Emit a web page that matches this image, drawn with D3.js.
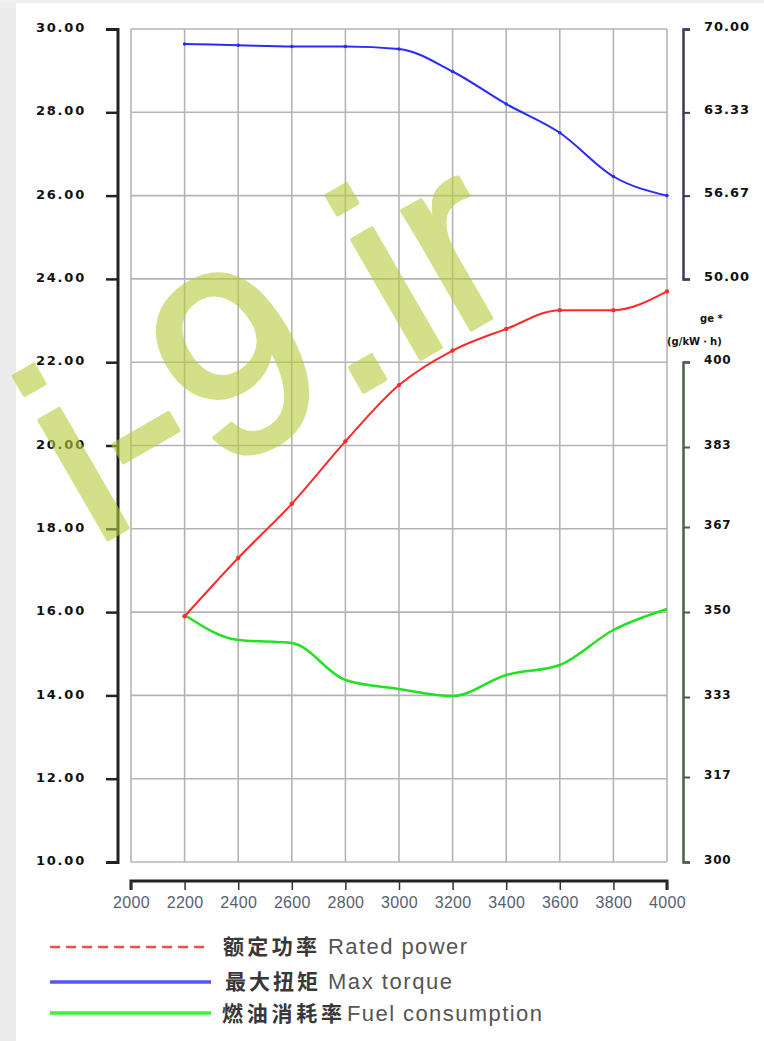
<!DOCTYPE html>
<html><head><meta charset="utf-8">
<script src="https://cdn.jsdelivr.net/npm/d3@7"></script>
<style>
html,body{margin:0;padding:0;background:#fff;}
svg{display:block;}
</style></head>
<body>
<script>
const rpm = [2200,2400,2600,2800,3000,3200,3400,3600,3800,4000];
const ratedPower = [15.9,17.3,18.6,20.1,21.45,22.28,22.8,23.25,23.25,23.7];
const maxTorque = [68.8,68.7,68.6,68.6,68.4,66.6,64.0,61.7,58.2,56.67];
const fuelConsumption = [349.4,344.4,343.8,336.4,334.6,333.2,337.4,339.4,346.4,350.6];
const xTicks = [2000,2200,2400,2600,2800,3000,3200,3400,3600,3800,4000];
const leftTicks = [10,12,14,16,18,20,22,24,26,28,30];
const torqueTicks = ["50.00","56.67","63.33","70.00"];
const fuelTicks = ["300","317","333","350","367","383","400"];
const legendCN = ["额定功率","最大扭矩","燃油消耗率"];
const legendEN = ["Rated power","Max torque","Fuel consumption"];

const W=764,H=1041;
const svg=d3.select("body").append("svg").attr("width",W).attr("height",H);
svg.append("rect").attr("width",W).attr("height",H).attr("fill","#fff");
svg.append("rect").attr("x",0).attr("y",0).attr("width",16).attr("height",H).attr("fill","#ececec");
svg.append("rect").attr("x",0).attr("y",0).attr("width",W).attr("height",3).attr("fill","#f0f0f0");

const x=d3.scaleLinear().domain([2000,4000]).range([131,667]);
const yL=d3.scaleLinear().domain([10,30]).range([862,29]);
const yT=d3.scaleLinear().domain([50,70]).range([279,29]);
const yF=d3.scaleLinear().domain([300,400]).range([862,362]);

// grid
const g=svg.append("g");
g.selectAll("line.v").data(xTicks).join("line")
 .attr("x1",d=>x(d)).attr("x2",d=>x(d)).attr("y1",29).attr("y2",862)
 .attr("stroke","#b4b4b4").attr("stroke-width",1.6);
g.selectAll("line.h").data(leftTicks).join("line")
 .attr("x1",131).attr("x2",667).attr("y1",d=>yL(d)).attr("y2",d=>yL(d))
 .attr("stroke","#b4b4b4").attr("stroke-width",1.6);

// left axis
const fontAx="'DejaVu Sans', sans-serif";
const la=svg.append("g").attr("transform","translate(118,0)")
 .call(d3.axisLeft(yL).tickValues(leftTicks).tickFormat(d3.format(".2f")).tickSize(12).tickPadding(20));
la.select(".domain").attr("stroke","#222").attr("stroke-width",3).attr("d","M-12,29.5H0V862.5H-12");
la.selectAll(".tick line").attr("stroke","#222").attr("stroke-width",2.5);
la.selectAll(".tick text").attr("fill","#111").attr("font-family",fontAx).attr("font-size",13).attr("font-weight","bold").attr("letter-spacing",1.8).attr("dy","0.2em");

// x axis
const xa=svg.append("g").attr("transform","translate(0,881)")
 .call(d3.axisBottom(x).tickValues(xTicks).tickFormat(d3.format("d")).tickSize(9).tickPadding(5));
xa.select(".domain").attr("stroke","#222").attr("stroke-width",3).attr("d","M131,9V0H667V9");
xa.selectAll(".tick line").attr("stroke","#333").attr("stroke-width",1.5);
xa.selectAll(".tick text").attr("fill","#586070").attr("font-family","'Liberation Sans',Arial,sans-serif").attr("font-size",16).attr("letter-spacing",0.3).attr("dy","0.8em");

// torque axis
const ta=svg.append("g").attr("transform","translate(683,0)")
 .call(d3.axisRight(yT).tickValues(torqueTicks.map(Number)).tickFormat((d,i)=>torqueTicks[i]).tickSize(7).tickPadding(14));
ta.select(".domain").attr("stroke","#3a3a5a").attr("stroke-width",2.5);
ta.selectAll(".tick line").attr("stroke","#3a3a5a").attr("stroke-width",2);
ta.selectAll(".tick text").attr("fill","#111").attr("font-family",fontAx).attr("font-size",13).attr("font-weight","bold").attr("letter-spacing",1).attr("dy","0.1em");

// fuel axis
const fa=svg.append("g").attr("transform","translate(683,0)")
 .call(d3.axisRight(yF).tickValues(fuelTicks.map(Number)).tickFormat((d,i)=>fuelTicks[i]).tickSize(7).tickPadding(14));
fa.select(".domain").attr("stroke","#4a5e4a").attr("stroke-width",2.5);
fa.selectAll(".tick line").attr("stroke","#4a5e4a").attr("stroke-width",2);
fa.selectAll(".tick text").attr("fill","#111").attr("font-family",fontAx).attr("font-size",12).attr("font-weight","bold").attr("letter-spacing",0.8).attr("dy","0.1em");
svg.append("text").attr("x",700).attr("y",322).text("ge  *").attr("font-family",fontAx).attr("font-size",10).attr("font-weight","bold").attr("fill","#111");
svg.append("text").attr("x",667).attr("y",345).text("(g/kW・h)").attr("font-family",fontAx).attr("font-size",10).attr("font-weight","bold").attr("fill","#111");

// lines
const curve=d3.curveMonotoneX;
const mk=(ys,ysc)=>d3.line().x((d,i)=>x(rpm[i])).y(d=>ysc(d)).curve(curve)(ys);
svg.append("path").attr("d",mk(fuelConsumption,yF)).attr("fill","none").attr("stroke","#22e022").attr("stroke-width",2.5);
svg.append("path").attr("d",mk(maxTorque,yT)).attr("fill","none").attr("stroke","#2a2aff").attr("stroke-width",2);
svg.append("path").attr("d",mk(ratedPower,yL)).attr("fill","none").attr("stroke","#ff2a2a").attr("stroke-width",2);
svg.selectAll("circle.r").data(ratedPower).join("circle").attr("cx",(d,i)=>x(rpm[i])).attr("cy",d=>yL(d)).attr("r",2.2).attr("fill","#ff2a2a");
svg.selectAll("circle.b").data(maxTorque).join("circle").attr("cx",(d,i)=>x(rpm[i])).attr("cy",d=>yT(d)).attr("r",1.8).attr("fill","#2a2aff");

// legend
const lg=[{c:"#ff4a4a",dash:"10,6",y:947,x2:205,cx:223,cl:94,ex:328,el:139,by:954,w:2.5},
          {c:"#5555ff",dash:null,y:982,x2:211,cx:225,cl:93,ex:328,el:124,by:989,w:3.5},
          {c:"#3ef03e",dash:null,y:1013,x2:211,cx:222,cl:120,ex:347,el:195,by:1021,w:3.5}];
lg.forEach((d,i)=>{
  svg.append("line").attr("x1",50).attr("x2",d.x2).attr("y1",d.y).attr("y2",d.y)
   .attr("stroke",d.c).attr("stroke-width",d.w).attr("stroke-dasharray",d.dash);
  svg.append("text").attr("x",d.cx).attr("y",d.by).text(legendCN[i])
   .attr("font-family","'Noto Sans CJK SC',sans-serif").attr("font-weight","bold").attr("font-size",21).attr("fill","#383838")
   .attr("textLength",d.cl).attr("lengthAdjust","spacing");
  svg.append("text").attr("x",d.ex).attr("y",d.by).text(legendEN[i])
   .attr("font-family","'Liberation Sans',Arial,sans-serif").attr("font-size",22).attr("fill","#555")
   .attr("textLength",d.el).attr("lengthAdjust","spacing");
});

// watermark
svg.append("g").attr("opacity",0.6)
 .append("text").attr("transform","translate(93,548) rotate(-30)")
 .text("i-9.ir").attr("font-family","'Liberation Sans',Arial,sans-serif")
 .attr("font-size",260).attr("fill","#b8cc3c").attr("stroke","#b8cc3c").attr("stroke-width",4).attr("stroke-linejoin","round");
</script>
</body></html>
